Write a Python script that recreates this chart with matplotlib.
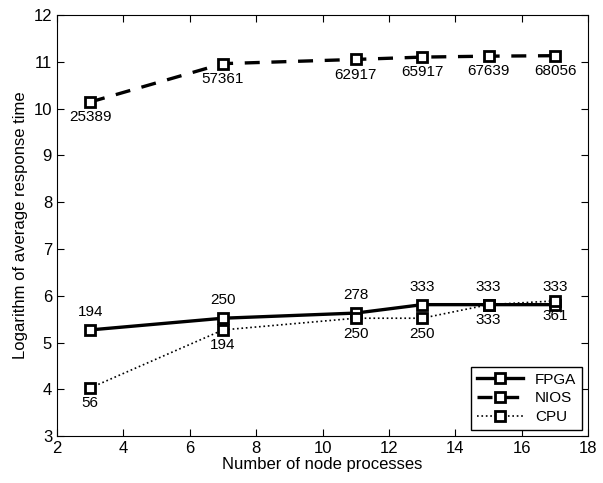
import matplotlib
matplotlib.use("Agg")
import matplotlib.pyplot as plt

plt.rcParams['font.family'] = ['Liberation Sans', 'DejaVu Sans']

# node processes
x = [3, 7, 11, 13, 15, 17]
# log of average response time
fpga = [5.27, 5.52, 5.63, 5.81, 5.81, 5.81]
nios = [10.14, 10.96, 11.05, 11.10, 11.12, 11.13]
cpu = [4.03, 5.27, 5.52, 5.52, 5.81, 5.89]
# raw times shown as labels
fpga_lbl = ['194', '250', '278', '333', '333', '333']
nios_lbl = ['25389', '57361', '62917', '65917', '67639', '68056']
cpu_lbl = ['56', '194', '250', '250', '333', '361']

fig = plt.figure(figsize=(6.03, 4.83), dpi=100)
ax = fig.add_axes([0.0945, 0.097, 0.881, 0.872])

mk = dict(marker='s', markersize=6.5, markerfacecolor='white',
          markeredgecolor='black', markeredgewidth=2.0, color='black')
ax.plot(x, fpga, '-', linewidth=2.4, label='FPGA', **mk)
ax.plot(x, nios, '--', linewidth=2.4, dashes=(4.5, 3.5), label='NIOS', **mk)
ax.plot(x, cpu, ':', linewidth=1.2, label='CPU', **mk)

for xi, yi, t in zip(x, fpga, fpga_lbl):
    ax.annotate(t, (xi, yi), xytext=(0, 8), textcoords='offset points',
                ha='center', va='bottom', fontsize=11)
for xi, yi, t in zip(x, nios, nios_lbl):
    ax.annotate(t, (xi, yi), xytext=(0, -6), textcoords='offset points',
                ha='center', va='top', fontsize=11)
for xi, yi, t in zip(x, cpu, cpu_lbl):
    ax.annotate(t, (xi, yi), xytext=(0, -6), textcoords='offset points',
                ha='center', va='top', fontsize=11)

ax.set_xlim(2, 18)
ax.set_ylim(3, 12)
ax.set_xticks(range(2, 19, 2))
ax.set_yticks(range(3, 13))
ax.tick_params(direction='in', top=True, right=True, labelsize=12, length=5)
ax.set_xlabel('Number of node processes', fontsize=12, labelpad=1)
ax.set_ylabel('Logarithm of average response time', fontsize=12, labelpad=4)

leg = ax.legend(loc='lower right', fontsize=11, fancybox=False,
                edgecolor='black', framealpha=1, handlelength=3,
                borderaxespad=0.4, labelspacing=0.3)
leg.get_frame().set_linewidth(1.0)

fig.savefig('out.png', dpi=100)
